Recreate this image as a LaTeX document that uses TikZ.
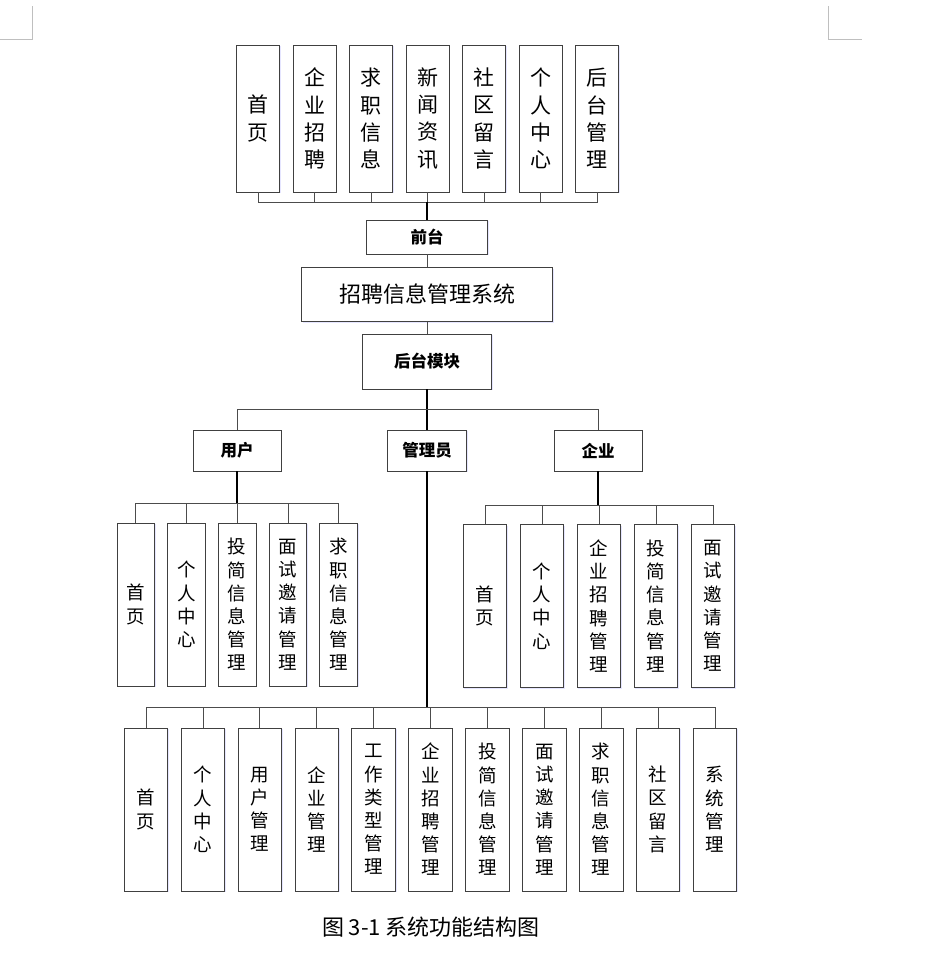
\documentclass[tikz,border=0pt]{standalone}
\usepackage{fontspec}
\newfontfamily\cjk{Noto Sans CJK SC}
\usetikzlibrary{shadows}

\tikzstyle{page} = [draw=black!25, line width=0.8pt]
\tikzstyle{mod} = [draw=black!75, line width=0.9pt, fill=white, inner sep=0pt, align=center,
    drop shadow={shadow xshift=1.2pt, shadow yshift=-1.2pt, fill=blue!25, opacity=0.4}]
\tikzstyle{tall} = [mod, minimum width=43, minimum height=147, font=\cjk\fontsize{21}{27.2}\selectfont]
\tikzstyle{leaf} = [mod, minimum width=43.5, minimum height=163, font=\cjk\fontsize{18.5}{23.2}\selectfont]
\tikzstyle{thin} = [mod, minimum width=37.5, minimum height=163, font=\cjk\fontsize{18.5}{23.2}\selectfont]
\tikzstyle{head} = [mod, font=\cjk\bfseries\fontsize{16.5}{20}\selectfont]
\tikzstyle{link} = [draw=black!70, line width=0.8pt]
\tikzstyle{trunk} = [draw=black, line width=1.6pt]

\begin{document}
\begin{tikzpicture}[x=1pt, y=-1pt]
\useasboundingbox (0,0) rectangle (942,956);

% page corner marks
\draw[page] (0,39.3) -- (32.3,39.3) -- (32.3,6);
\draw[page] (828.3,6) -- (828.3,39.3) -- (862,39.3);

% front end
\foreach \t [count=\i] in {{首\\页}, {企\\业\\招\\聘}, {求\\职\\信\\息}, {新\\闻\\资\\讯},
    {社\\区\\留\\言}, {个\\人\\中\\心}, {后\\台\\管\\理}}
    \node[tall] (t\i) at ({258+56.5*(\i-1)}, 118.5) {\t};

\node[head, minimum width=121, minimum height=34] (front) at (427, 237) {前台};
\node[mod, minimum width=251, minimum height=54, font=\cjk\fontsize{22}{26}\selectfont] (sys) at (427, 294.5) {招聘信息管理系统};
\node[head, minimum width=129, minimum height=55] (back) at (427, 361.5) {后台模块};

% roles
\node[head, minimum width=88, minimum height=41] (user) at (237, 450.5) {用户};
\node[head, minimum width=79, minimum height=41] (admin) at (427, 450.5) {管理员};
\node[head, minimum width=88, minimum height=41] (comp) at (598, 450.5) {企业};

% user functions
\foreach \t [count=\i] in {{首\\页}, {个\\人\\中\\心}, {投\\简\\信\\息\\管\\理},
    {面\\试\\邀\\请\\管\\理}, {求\\职\\信\\息\\管\\理}}
    \node[thin] (u\i) at ({135.8+50.7*(\i-1)}, 604.5) {\t};

% company functions
\foreach \t [count=\i] in {{首\\页}, {个\\人\\中\\心}, {企\\业\\招\\聘\\管\\理},
    {投\\简\\信\\息\\管\\理}, {面\\试\\邀\\请\\管\\理}}
    \node[leaf] (c\i) at ({485+57*(\i-1)}, 606) {\t};

% admin functions
\foreach \t [count=\i] in {{首\\页}, {个\\人\\中\\心}, {用\\户\\管\\理}, {企\\业\\管\\理},
    {工\\作\\类\\型\\管\\理}, {企\\业\\招\\聘\\管\\理}, {投\\简\\信\\息\\管\\理},
    {面\\试\\邀\\请\\管\\理}, {求\\职\\信\\息\\管\\理}, {社\\区\\留\\言}, {系\\统\\管\\理}}
    \node[leaf] (a\i) at ({146+56.9*(\i-1)}, 809.5) {\t};

% buses
\coordinate (tbus) at (front.north |- 0,202);
\coordinate (mbus) at (back.south |- 0,409);
\coordinate (ubus) at (user.south |- 0,503.5);
\coordinate (cbus) at (comp.south |- 0,505);
\coordinate (abus) at (admin.south |- 0,707.5);

\foreach \i in {1,...,7}
    \draw[link] (t\i.south) |- (tbus);
\draw[trunk] (tbus) -- (front.north);
\draw[link] (front.south) -- (sys.north);
\draw[link] (sys.south) -- (back.north);

\draw[trunk] (back.south) -- (admin.north);
\draw[link] (user.north) |- (mbus);
\draw[link] (comp.north) |- (mbus);

\draw[trunk] (user.south) -- (ubus);
\foreach \i in {1,...,5}
    \draw[link] (u\i.north) |- (ubus);
\draw[trunk] (comp.south) -- (cbus);
\foreach \i in {1,...,5}
    \draw[link] (c\i.north) |- (cbus);
\draw[trunk] (admin.south) -- (abus);
\foreach \i in {1,...,11}
    \draw[link] (a\i.north) |- (abus);

\node[font=\cjk\fontsize{22}{26}\selectfont] (cap) at (431, 927) {图 3-1 系统功能结构图};
\end{tikzpicture}
\end{document}
